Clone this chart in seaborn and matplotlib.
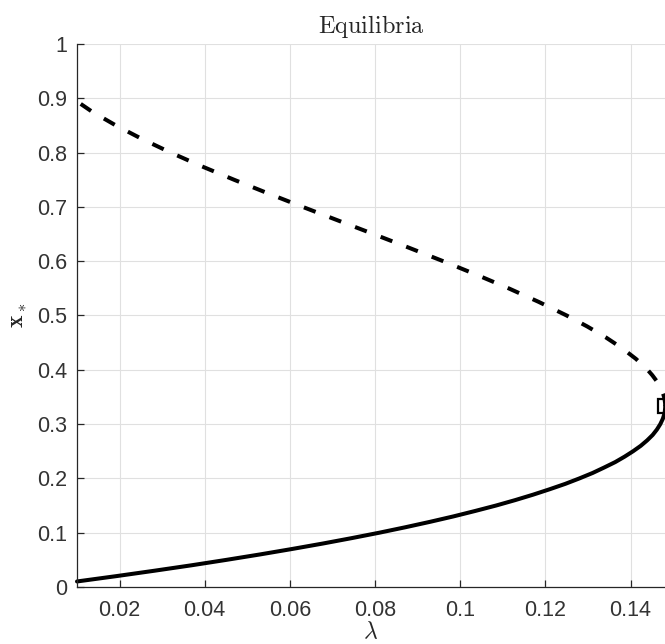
import matplotlib
matplotlib.use("Agg")
import matplotlib.pyplot as plt
import seaborn as sns
import pandas as pd

# Lower (stable) branch: lambda, x*
stable_lambda = [0.0100, 0.0192, 0.0282, 0.0369, 0.0451, 0.0530, 0.0605, 0.0677,
                 0.0745, 0.0810, 0.0871, 0.0929, 0.0984, 0.1035, 0.1084, 0.1129,
                 0.1171, 0.1210, 0.1247, 0.1280, 0.1311, 0.1338, 0.1364, 0.1386,
                 0.1406, 0.1424, 0.1439, 0.1452, 0.1462, 0.1466, 0.1470, 0.1473,
                 0.1476, 0.1478, 0.1480, 0.14808, 0.14814, 0.14815]
stable_x = [0.0102, 0.020, 0.030, 0.040, 0.050, 0.060, 0.070, 0.080,
            0.090, 0.100, 0.110, 0.120, 0.130, 0.140, 0.150, 0.160,
            0.170, 0.180, 0.190, 0.200, 0.210, 0.220, 0.230, 0.240,
            0.250, 0.260, 0.270, 0.280, 0.290, 0.295, 0.300, 0.305,
            0.310, 0.315, 0.320, 0.325, 0.330, 0.3333]

# Upper (unstable) branch: lambda, x*
unstable_lambda = [0.14815, 0.14814, 0.14810, 0.14801, 0.14788, 0.14769, 0.14746,
                   0.14685, 0.14607, 0.14512, 0.14400, 0.14129, 0.13798, 0.13414,
                   0.12979, 0.12500, 0.11845, 0.11138, 0.10386, 0.09600, 0.08789,
                   0.07963, 0.07130, 0.06300, 0.05484, 0.04688, 0.03922, 0.03200,
                   0.02528, 0.01913, 0.01360, 0.00998]
unstable_x = [0.3333, 0.3367, 0.340, 0.345, 0.350, 0.355, 0.360,
              0.370, 0.380, 0.390, 0.400, 0.420, 0.440, 0.460,
              0.480, 0.500, 0.525, 0.550, 0.575, 0.600, 0.625,
              0.650, 0.675, 0.700, 0.725, 0.750, 0.775, 0.800,
              0.825, 0.850, 0.875, 0.8944]

# Fold point marker
fold_lambda = [0.1481]
fold_x = [0.3333]

x_ticks = [0.02, 0.04, 0.06, 0.08, 0.10, 0.12, 0.14]
x_tick_labels = ["0.02", "0.04", "0.06", "0.08", "0.1", "0.12", "0.14"]
y_ticks = [0, 0.1, 0.2, 0.3, 0.4, 0.5, 0.6, 0.7, 0.8, 0.9, 1.0]
y_tick_labels = ["0", "0.1", "0.2", "0.3", "0.4", "0.5", "0.6", "0.7", "0.8", "0.9", "1"]

sns.set_theme(style="white")
plt.rcParams["font.family"] = ["Liberation Sans", "DejaVu Sans"]
plt.rcParams["mathtext.fontset"] = "cm"

fig = plt.figure(figsize=(6.65, 6.44), dpi=100)
ax = fig.add_axes([0.1158, 0.0885, 0.8842, 0.8432])

df_s = pd.DataFrame({"lam": stable_lambda, "x": stable_x})
df_u = pd.DataFrame({"lam": unstable_lambda, "x": unstable_x})

sns.lineplot(data=df_s, x="lam", y="x", sort=False, estimator=None, ax=ax,
             color="black", linewidth=2.9, clip_on=False)
sns.lineplot(data=df_u, x="lam", y="x", sort=False, estimator=None, ax=ax,
             color="black", linewidth=2.9, linestyle=(0, (3.1, 3.7)), clip_on=False)
ax.plot(fold_lambda, fold_x, linestyle="none", marker="s", markersize=10.5,
        markerfacecolor="none", markeredgecolor="black", markeredgewidth=1.6,
        clip_on=False, zorder=5)

ax.set_xlim(0.01, 0.1481)
ax.set_ylim(0, 1)
ax.set_xticks(x_ticks)
ax.set_xticklabels(x_tick_labels)
ax.set_yticks(y_ticks)
ax.set_yticklabels(y_tick_labels)

ax.grid(True, color="#e0e0e0", linewidth=0.8)
ax.set_axisbelow(True)
for s in ["top", "right"]:
    ax.spines[s].set_visible(False)
for s in ["left", "bottom"]:
    ax.spines[s].set_color("#262626")
    ax.spines[s].set_linewidth(0.9)

ax.tick_params(axis="both", direction="in", length=5, width=0.9, color="#262626",
               labelsize=15.5, labelcolor="#333333", bottom=True, left=True)
ax.tick_params(axis="x", pad=9)
ax.tick_params(axis="y", pad=7)

ax.set_title(r"$\mathrm{Equilibria}$", fontsize=17.5, color="#262626", pad=8)
ax.set_xlabel(r"$\lambda$", fontsize=17, color="#262626", va="bottom")
ax.xaxis.set_label_coords(0.5, -0.103)
ax.set_ylabel(r"$\mathbf{x}_*$", fontsize=17, color="#262626", labelpad=6)

fig.savefig("out.png", dpi=100)
